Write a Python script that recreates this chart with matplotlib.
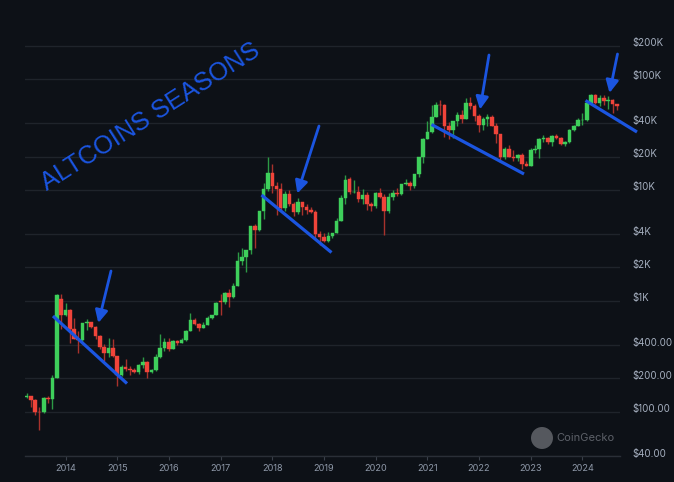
import matplotlib
matplotlib.use('Agg')
import matplotlib.pyplot as plt
import matplotlib.dates as mdates
from matplotlib.patches import FancyArrowPatch, Circle
from matplotlib.lines import Line2D
from matplotlib.transforms import ScaledTranslation, IdentityTransform
import pandas as pd
import datetime as dt

# ---------------- data (monthly BTC candles, USD) ----------------
start_month = '2013-04-01'
opens = [135, 139, 128, 100, 99, 134, 130, 200, 1040,
         740, 820, 560, 455, 447, 627, 640, 585, 480, 388, 338, 378,
         320, 217, 254, 244, 236, 230, 263, 284, 230, 236, 314, 378,
         430, 368, 437, 416, 448, 531, 673, 624, 575, 609, 699, 745,
         998, 970, 1190, 1080, 1350, 2300, 2480, 2870, 4700, 4340, 6450, 10230,
         14100, 10800, 10300, 6900, 9240, 7490, 6390, 7730, 7030, 6630, 6370, 4040,
         3740, 3460, 3850, 4100, 5250, 8500, 12500, 9500, 9550, 8250, 9000, 7500,
         7200, 9350, 8600, 6400, 8650, 9450, 9150, 11350, 11650, 10780, 13800, 19700,
         29000, 33100, 45200, 58800, 57700, 37300, 35000, 41500, 47100, 43800, 61300, 57000,
         46300, 38500, 43200, 45500, 37700, 31800, 19900, 23300, 20000, 19400, 20500, 17100,
         16500, 23100, 23150, 28500, 29300, 27200, 30500, 29200, 25900, 27000, 34600, 37700,
         42300, 42600, 61200, 71300, 60600, 67500, 62700, 64600, 59000]
highs = [147, 140, 130, 111, 135, 140, 214, 1150, 1150,
         950, 850, 700, 530, 630, 680, 650, 600, 495, 410, 460, 455,
         320, 265, 300, 260, 247, 268, 315, 285, 245, 335, 500, 465,
         460, 440, 440, 465, 550, 780, 705, 628, 640, 730, 750, 975,
         1150, 1200, 1290, 1440, 2760, 2980, 2900, 4750, 4970, 6470, 11500, 19700,
         17200, 11700, 11600, 9750, 9940, 7750, 8450, 7750, 7400, 7000, 6550, 4300,
         4100, 4200, 4100, 5600, 9000, 13600, 13100, 12300, 10900, 10300, 9500, 7750,
         9550, 10500, 9200, 9400, 10000, 10400, 11400, 12450, 12050, 14000, 19800, 29300,
         41900, 58300, 61700, 64800, 59000, 41300, 42200, 50400, 52900, 66900, 69000, 59000,
         47900, 45700, 48100, 47400, 39900, 31900, 24600, 25200, 22700, 21000, 21400, 18300,
         23900, 25200, 29100, 31000, 29800, 31400, 31800, 30100, 27400, 35100, 38400, 44700,
         48900, 63900, 73700, 72700, 71900, 71900, 70000, 65600, 59800]
lows = [134, 110, 94, 68, 98, 120, 105, 200, 560,
        730, 420, 450, 340, 420, 550, 565, 450, 365, 285, 315, 310,
        170, 210, 235, 214, 225, 220, 250, 200, 226, 235, 305, 355,
        355, 365, 400, 415, 437, 530, 605, 540, 570, 605, 685, 740,
        750, 940, 890, 1060, 1350, 2100, 1830, 2650, 2970, 4250, 5500, 9700,
        9400, 6000, 6600, 6500, 7100, 5800, 6100, 5900, 6100, 6200, 3600, 3200,
        3400, 3400, 3700, 4050, 5250, 7500, 9100, 9400, 7800, 7500, 6600, 6500,
        6900, 8500, 3900, 6200, 8100, 8900, 9050, 11000, 9900, 10500, 13200, 17600,
        28800, 32300, 45000, 47000, 30000, 28800, 29300, 37400, 40000, 43300, 53500, 42000,
        33100, 34400, 37300, 37700, 26700, 17700, 18900, 19800, 18200, 18300, 15600, 16300,
        16500, 21400, 19600, 26900, 25800, 24800, 28900, 25400, 24900, 26600, 34100, 37600,
        38600, 41900, 59300, 59100, 56600, 58600, 53600, 49200, 52600]
closes = [139, 129, 100, 99, 133, 130, 200, 1125, 740,
          820, 560, 455, 447, 627, 640, 585, 480, 388, 338, 378, 320,
          217, 254, 244, 236, 230, 263, 284, 230, 236, 314, 378, 430,
          368, 437, 416, 448, 531, 673, 624, 575, 609, 699, 745, 964,
          970, 1190, 1080, 1350, 2300, 2480, 2870, 4700, 4340, 6450, 10230, 14100,
          10800, 10300, 6900, 9240, 7490, 6390, 7730, 7030, 6630, 6370, 4040, 3740,
          3460, 3850, 4100, 5250, 8500, 12200, 9500, 9550, 8250, 9000, 7500, 7200,
          9350, 8600, 6400, 8650, 9450, 9150, 11350, 11650, 10780, 13800, 19700, 29000,
          33100, 45200, 58800, 57700, 37300, 35000, 41500, 47100, 43800, 61300, 57000, 46300,
          38500, 43200, 45500, 37700, 31800, 19900, 23300, 20000, 19400, 20500, 17100, 16500,
          23100, 23150, 28500, 29300, 27200, 30500, 29200, 25900, 27000, 34600, 37700, 42300,
          42600, 61200, 71300, 60600, 67500, 62700, 64600, 59000, 56500]

y_ticks = [40, 100, 200, 400, 1000, 2000, 4000, 10000, 20000, 40000, 100000, 200000]
y_tick_labels = ['$40.00', '$100.00', '$200.00', '$400.00', '$1K', '$2K', '$4K',
                 '$10K', '$20K', '$40K', '$100K', '$200K']
x_years = list(range(2014, 2025))
annotation_text = 'ALTCOINS SEASONS'
watermark_text = 'CoinGecko'

# ---------------- style ----------------
W, H = 674, 482
BG = '#0d1117'
GRID = '#1f242b'
GREEN = '#3ecf5b'
RED = '#f0443a'
GREEN_WICK = '#2c9a45'
RED_WICK = '#a8322c'
BLUE = '#1b55e0'
YLAB = '#a6b0c0'
XLAB = '#8e98a8'

fig = plt.figure(figsize=(W / 100, H / 100), dpi=100, facecolor=BG)
ax = fig.add_axes([25 / W, 26 / H, 595 / W, 436 / H], facecolor=BG)

months = pd.date_range(start_month, periods=len(closes), freq='MS')
xd = mdates.date2num(months.to_pydatetime())

up = [c >= o for o, c in zip(opens, closes)]
body_colors = [GREEN if u else RED for u in up]
wick_colors = [GREEN_WICK if u else RED_WICK for u in up]
bottoms = [min(o, c) for o, c in zip(opens, closes)]
heights = [abs(c - o) for o, c in zip(opens, closes)]

ax.set_yscale('log')
ax.vlines(xd, lows, highs, colors=wick_colors, lw=1.0, zorder=2)
ax.bar(xd, heights, bottom=bottoms, width=25, color=body_colors,
       edgecolor=body_colors, linewidth=0.3, zorder=3)

# axes limits
x_left = mdates.date2num(dt.datetime(2014, 1, 1)) - 0.7835 * 365.25
x_right = mdates.date2num(dt.datetime(2024, 1, 1)) + 0.727 * 365.25
ax.set_xlim(x_left, x_right)
ax.set_ylim(40, 10 ** (5 + 59 / 111))

# y axis on right
ax.set_yticks(y_ticks)
ax.set_yticklabels(y_tick_labels)
ax.yaxis.set_minor_locator(matplotlib.ticker.NullLocator())
ax.yaxis.tick_right()
ax.tick_params(axis='y', length=0, pad=8.6, labelsize=7, labelcolor=YLAB)
for lab in ax.get_yticklabels():
    lab.set_fontfamily('Inter')
    lab.set_transform(lab.get_transform() + ScaledTranslation(0, 0.035, fig.dpi_scale_trans))
ax.grid(axis='y', color=GRID, lw=1.0, zorder=0)
ax.set_axisbelow(True)

# x axis
ax.set_xticks([mdates.date2num(dt.datetime(y, 1, 1)) for y in x_years])
ax.set_xticklabels([str(y) for y in x_years])
ax.tick_params(axis='x', length=3, width=0.8, color='#3a404a', pad=2.5,
               labelsize=6.6, labelcolor=XLAB)
for lab in ax.get_xticklabels():
    lab.set_fontfamily('Inter')

for s in ['top', 'right', 'left']:
    ax.spines[s].set_visible(False)
ax.spines['bottom'].set_color('#2a2f37')
ax.spines['bottom'].set_linewidth(1.0)


# ---------------- annotations (figure pixel coords) ----------------
def fp(x, y):
    return (x / W, 1 - y / H)


trend_lines = [((53, 316), (127, 383.5)),
               ((261.5, 195), (331.5, 252.5)),
               ((431.5, 124.5), (524, 174)),
               ((585.5, 100.5), (637, 132))]
for (p1, p2) in trend_lines:
    a, b = fp(*p1), fp(*p2)
    fig.add_artist(Line2D([a[0], b[0]], [a[1], b[1]], transform=fig.transFigure,
                          color=BLUE, lw=2.3, solid_capstyle='butt', zorder=10))

arrows = [((111, 271), (98.3, 323)),
          ((319, 126), (297.3, 193.5)),
          ((489, 55), (480, 109.5)),
          ((617.5, 54), (609.5, 93))]
for (p1, p2) in arrows:
    arr = FancyArrowPatch(fp(*p1), fp(*p2), transform=fig.transFigure,
                          arrowstyle='-|>,head_length=0.5,head_width=0.25',
                          mutation_scale=15, lw=2.0, color=BLUE,
                          shrinkA=0, shrinkB=0, zorder=10)
    fig.add_artist(arr)

fig.text(47 / W, 1 - 191 / H, annotation_text, rotation=32.5, rotation_mode='anchor',
         ha='left', va='baseline', fontsize=18.3, color=BLUE,
         family='Liberation Sans', zorder=10)

# watermark
fig.add_artist(Circle((542, H - 438), 11, transform=IdentityTransform(),
                      facecolor='#55585e', edgecolor='none', zorder=5))
fig.text(556 / W, 1 - 438 / H, watermark_text, ha='left', va='center',
         fontsize=8.0, color='#5c6068', family='Inter', zorder=5)

fig.savefig('out.png', dpi=100, facecolor=BG)
